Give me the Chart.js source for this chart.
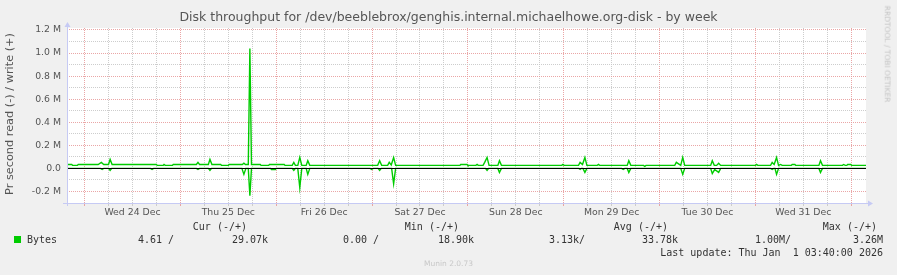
<!DOCTYPE html>
<html>
<head>
<meta charset="utf-8">
<title>Disk throughput - by week</title>
<script src="https://cdn.jsdelivr.net/npm/chart.js@4/dist/chart.umd.min.js"></script>
<style>
  html, body { margin: 0; padding: 0; background: #f0f0f0; }
  #wrap { position: relative; width: 897px; height: 275px; overflow: hidden; font-family: "DejaVu Sans", sans-serif; }
  #chart { position: absolute; left: 0; top: 0; }
  .t { position: absolute; white-space: pre; line-height: 1; }
  .mono { font-family: "DejaVu Sans Mono", monospace; font-size: 10px; color: #333; }
</style>
</head>
<body>
<div id="wrap">
  <canvas id="chart" width="897" height="275"></canvas>
  <div class="t" style="left:0;width:897px;top:11px;text-align:center;font-size:12.5px;color:#555;">Disk throughput for /dev/beeblebrox/genghis.internal.michaelhowe.org-disk - by week</div>
  <div class="t" style="left:10px;top:114px;font-size:11.3px;color:#555;transform:translate(-50%,-50%) rotate(-90deg);">Pr second read (-) / write (+)</div>
  <div class="t" style="left:887px;top:54px;font-size:7.5px;color:#c4c4c4;transform:translate(-50%,-50%) rotate(90deg);">RRDTOOL / TOBI OETIKER</div>

  <div class="t mono" style="right:650px;top:222px;">Cur (-/+)</div>
  <div class="t mono" style="right:438px;top:222px;">Min (-/+)</div>
  <div class="t mono" style="right:229px;top:222px;">Avg (-/+)</div>
  <div class="t mono" style="right:20px;top:222px;">Max (-/+)</div>

  <div style="position:absolute;left:14px;top:236px;width:7px;height:7px;background:#00cc00;"></div>
  <div class="t mono" style="left:27px;top:235px;">Bytes</div>
  <div class="t mono" style="right:723px;top:235px;">4.61 /</div>
  <div class="t mono" style="right:629px;top:235px;">29.07k</div>
  <div class="t mono" style="right:518px;top:235px;">0.00 /</div>
  <div class="t mono" style="right:423px;top:235px;">18.90k</div>
  <div class="t mono" style="right:312px;top:235px;">3.13k/</div>
  <div class="t mono" style="right:219px;top:235px;">33.78k</div>
  <div class="t mono" style="right:106px;top:235px;">1.00M/</div>
  <div class="t mono" style="right:14px;top:235px;">3.26M</div>

  <div class="t mono" style="right:14px;top:248px;">Last update: Thu Jan  1 03:40:00 2026</div>
  <div class="t" style="left:0;width:897px;top:260px;text-align:center;font-size:7.5px;color:#c8c8c8;">Munin 2.0.73</div>
</div>

<script>
// hours relative to Wed 24 Dec 00:00, values in bytes per second
const writeHours = [
  -4.4, -3.2, -3.0, -1.8, -1.6, 3.4, 4.2, 4.8, 6.0, 6.4, 6.9, 18.0, 18.2, 19.7, 19.9, 20.2,
  22.0, 22.2, 28.0, 28.4, 28.8, 31.0, 31.4, 31.9, 34.1, 34.3, 36.0, 36.2, 39.5, 39.9, 40.3,
  41.0, 41.4, 41.8, 44.0, 44.2, 46.1, 46.3, 50.0, 50.2, 52.0, 52.4, 52.8, 53.4, 53.9, 54.4,
  55.5, 55.9, 56.4, 73.4, 73.9, 74.4, 75.9, 76.3, 76.8, 77.4, 77.9, 94.0, 94.2, 95.8, 96.0,
  98.0, 98.3, 98.6, 99.8, 100.2, 100.8, 101.3, 103.5, 103.9, 104.4, 119.5, 119.8, 120.1,
  123.7, 124.1, 124.7, 125.3, 125.8, 128.4, 128.7, 129.0, 135.9, 136.3, 136.8, 140.0, 140.3,
  140.6, 147.8, 148.2, 149.3, 149.8, 150.3, 156.8, 157.2, 157.7, 158.3, 158.8, 159.3, 168.0,
  168.3, 168.6, 171.8, 172.2, 172.7, 173.3, 173.8, 174.3, 174.7, 177.0, 177.2, 177.9, 178.1,
  183.9, 184.3, 184.8, 189.8, 190.1, 190.5, 190.9, 191.1, 191.9, 192.1, 195.7
];
const writeBytes = [
  34000, 34000, 26000, 26000, 34000, 34000, 52000, 34000, 34000, 78000, 34000, 34000, 26000, 26000, 34000, 26000,
  26000, 34000, 34000, 52000, 34000, 34000, 78000, 34000, 34000, 26000, 26000, 34000, 34000, 45000, 34000,
  34000, 1040000, 34000, 34000, 26000, 26000, 34000, 34000, 26000, 26000, 52000, 26000, 26000, 95000, 26000,
  26000, 66000, 26000, 26000, 66000, 26000, 26000, 52000, 30000, 95000, 26000, 26000, 34000, 34000, 26000,
  26000, 34000, 26000, 26000, 52000, 95000, 26000, 26000, 66000, 26000, 26000, 34000, 26000,
  26000, 52000, 34000, 95000, 26000, 26000, 34000, 26000, 26000, 66000, 26000, 26000, 17000,
  26000, 26000, 52000, 26000, 95000, 26000, 26000, 66000, 26000, 26000, 44000, 26000, 26000,
  34000, 26000, 26000, 52000, 34000, 95000, 26000, 34000, 26000, 26000, 34000, 34000, 26000,
  26000, 66000, 26000, 26000, 34000, 26000, 26000, 34000, 34000, 26000, 26000
];

const readHours = [
  -4.4, 4.0, 4.4, 4.8, 6.0, 6.4, 6.8, 16.5, 16.9, 17.3, 28.0, 28.4, 28.8, 31.0, 31.4, 31.8,
  39.4, 39.9, 40.4, 41.0, 41.4, 41.8, 46.6, 46.8, 47.8, 48.0, 52.0, 52.4, 52.8, 53.4, 53.9, 54.4,
  55.5, 55.9, 56.4, 71.5, 71.9, 72.3, 73.5, 73.9, 74.3, 76.9, 77.4, 77.9, 100.4, 100.8, 101.2,
  103.5, 103.9, 104.4, 123.8, 124.1, 124.4, 124.8, 125.3, 125.8, 134.5, 134.9, 135.3, 135.9, 136.3, 136.8,
  149.3, 149.8, 150.3, 156.8, 157.2, 157.8, 158.8, 159.3, 171.8, 172.2, 172.6, 172.9, 173.3, 173.8,
  183.9, 184.3, 184.8, 195.7
];
const readBytes = [
  0, 0, -9000, 0, 0, -17000, 0, 0, -9000, 0, 0, -9000, 0, 0, -17000, 0,
  0, -52000, 0, 0, -237000, 0, 0, -9000, -9000, 0, 0, -17000, 0, 0, -167000, 0,
  0, -52000, 0, 0, -9000, 0, 0, -17000, 0, 0, -133000, 0, 0, -17000, 0,
  0, -35000, 0, 0, -9000, 0, 0, -35000, 0, 0, -9000, 0, 0, -35000, 0,
  0, -52000, 0, 0, -45000, -10000, -35000, 0, 0, -9000, 0, 0, -52000, 0,
  0, -35000, 0, 0
];

// grid: every 6 hours, red line at midnight, day label at noon
const xGridHours = [0, 6, 12, 18, 24, 30, 36, 42, 48, 54, 60, 66, 72, 78, 84, 90, 96, 102, 108, 114,
  120, 126, 132, 138, 144, 150, 156, 162, 168, 174, 180, 186, 192];
const dayLabels = ["Wed 24 Dec", "Thu 25 Dec", "Fri 26 Dec", "Sat 27 Dec", "Sun 28 Dec", "Mon 29 Dec", "Tue 30 Dec", "Wed 31 Dec"];
const yGridValues = [-200000, -100000, 0, 100000, 200000, 300000, 400000, 500000, 600000, 700000,
  800000, 900000, 1000000, 1100000, 1200000];
const yTickValues = [-200000, 0, 200000, 400000, 600000, 800000, 1000000, 1200000];
const yTickLabels = ["-0.2 M", "0.0", "0.2 M", "0.4 M", "0.6 M", "0.8 M", "1.0 M", "1.2 M"];

const GREEN = "#00cc00";
const MINOR = "rgba(200,200,200,0.9)";
const MAJOR = "rgba(230,150,150,0.85)";
const AXIS = "#c6caf4";
const TICKFONT = { family: "DejaVu Sans", size: 9.33 };

function pairs(xs, ys) {
  return xs.map((x, i) => ({ x, y: ys[i] }));
}

const isMidnight = (c) => c.tick && c.tick.value % 24 === 0;
const isMajorY = (c) => c.tick && yTickValues.includes(c.tick.value);

const muninPlugin = {
  id: "munin",
  beforeDraw(chart) {
    const a = chart.chartArea;
    const ctx = chart.ctx;
    ctx.save();
    ctx.fillStyle = "#ffffff";
    ctx.fillRect(a.left, a.top, a.right - a.left, a.bottom - a.top);
    ctx.restore();
  },
  afterDatasetsDraw(chart) {
    const a = chart.chartArea;
    const ctx = chart.ctx;
    const y0 = Math.round(chart.scales.y.getPixelForValue(0)) + 0.5;
    ctx.save();
    ctx.strokeStyle = "#000000";
    ctx.lineWidth = 1;
    ctx.beginPath();
    ctx.moveTo(a.left, y0);
    ctx.lineTo(a.right, y0);
    ctx.stroke();

    // axes with arrows
    const bx = Math.round(a.bottom) + 0.5;
    const lx = Math.round(a.left) + 0.5;
    ctx.strokeStyle = AXIS;
    ctx.fillStyle = AXIS;
    ctx.beginPath();
    ctx.moveTo(a.left - 4, bx);
    ctx.lineTo(a.right + 3, bx);
    ctx.moveTo(lx, a.bottom + 3);
    ctx.lineTo(lx, a.top - 2);
    ctx.stroke();
    ctx.beginPath();
    ctx.moveTo(a.right + 2, bx - 3);
    ctx.lineTo(a.right + 7, bx);
    ctx.lineTo(a.right + 2, bx + 3);
    ctx.closePath();
    ctx.fill();
    ctx.beginPath();
    ctx.moveTo(lx - 3, a.top - 1);
    ctx.lineTo(lx, a.top - 6);
    ctx.lineTo(lx + 3, a.top - 1);
    ctx.closePath();
    ctx.fill();
    ctx.restore();
  }
};

new Chart(document.getElementById("chart"), {
  type: "line",
  data: {
    datasets: [
      {
        label: "read",
        data: pairs(readHours, readBytes),
        parsing: false,
        borderColor: GREEN,
        borderWidth: 1.4,
        pointRadius: 0,
        tension: 0,
        fill: false
      },
      {
        label: "write",
        data: pairs(writeHours, writeBytes),
        parsing: false,
        borderColor: GREEN,
        borderWidth: 1.4,
        pointRadius: 0,
        tension: 0,
        fill: false
      }
    ]
  },
  options: {
    responsive: false,
    animation: false,
    events: [],
    layout: { padding: { top: 28, right: 31, bottom: 0, left: 0 } },
    plugins: { legend: { display: false }, tooltip: { enabled: false } },
    scales: {
      x: {
        type: "linear",
        min: -4.4,
        max: 195.7,
        afterBuildTicks(scale) { scale.ticks = xGridHours.map((v) => ({ value: v })); },
        afterFit(scale) { scale.height = 72; },
        border: { display: false, dash: [1, 1] },
        grid: {
          color: (c) => (isMidnight(c) ? MAJOR : MINOR),
          tickColor: (c) => (isMidnight(c) ? MAJOR : MINOR),
          tickLength: 3,
          lineWidth: 1
        },
        ticks: {
          autoSkip: false,
          maxRotation: 0,
          padding: 1,
          color: "#555",
          font: TICKFONT,
          callback: (v) => {
            if ((v - 12) % 24 !== 0) return "";
            return dayLabels[(v - 12) / 24] || "";
          }
        }
      },
      y: {
        min: -300000,
        max: 1217000,
        afterBuildTicks(scale) { scale.ticks = yGridValues.map((v) => ({ value: v })); },
        afterFit(scale) { scale.width = 67; },
        border: { display: false, dash: [1, 1] },
        grid: {
          color: (c) => (isMajorY(c) ? MAJOR : MINOR),
          drawTicks: false,
          lineWidth: 1
        },
        ticks: {
          autoSkip: false,
          padding: 6,
          color: "#555",
          font: TICKFONT,
          callback: (v) => {
            const i = yTickValues.indexOf(v);
            return i >= 0 ? yTickLabels[i] : "";
          }
        }
      }
    }
  },
  plugins: [muninPlugin]
});
</script>
</body>
</html>
